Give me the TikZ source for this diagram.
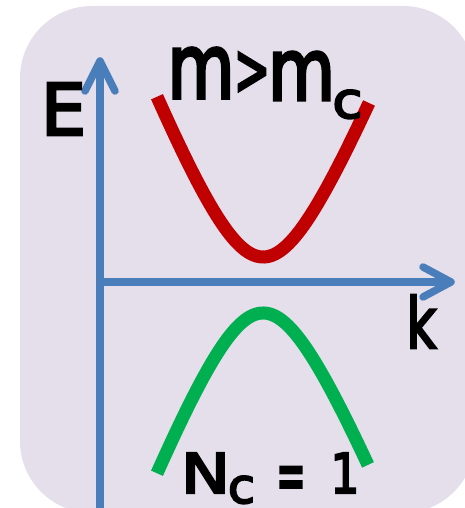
\documentclass[tikz,border=0pt]{standalone}
\usepackage{fontspec}
\setmainfont{DejaVu Sans}[FakeBold=4]
\definecolor{bgcol}{HTML}{E5DFEC}
\definecolor{axiscol}{HTML}{4A7EBB}
\definecolor{bandred}{HTML}{C00000}
\definecolor{bandgreen}{HTML}{00B050}
% #1 ink width, #2 scaled box width, #3 height, #4 glyph
\newcommand{\glyphbox}[4]{\makebox[#1]{\resizebox{#2}{#3}{#4}}}
\begin{document}
\begin{tikzpicture}[x=1pt,y=-1pt,
  axis/.style={draw=axiscol, line width=7.5pt},
  tipstyle/.style={draw=axiscol, line width=7.5pt, line cap=round, line join=round},
  band/.style={line width=13pt, line cap=butt},
  lbl/.style={inner sep=0pt, text=black, text depth=0pt, anchor=base, font=\fontsize{10}{10}\selectfont}]
\useasboundingbox (0,0) rectangle (464,508);
\fill[bgcol, rounded corners=72pt] (20,6) rectangle (475,513);
% axes
\coordinate (Ebot) at (100,508);
\coordinate (Etip) at (100,61);
\coordinate (Kstart) at (96,282);
\coordinate (Ktip) at (451,282);
\draw[axis] (Ebot) -- (Etip);
\draw[tipstyle] (85,91) -- (Etip) -- (115,91);
\draw[axis] (Kstart) -- (Ktip);
\draw[tipstyle] (423,267) -- (Ktip) -- (423,297);
% bands
\draw[band, draw=bandred] plot[domain=-105:107, samples=80, smooth]
  ({262+\x},{257-veclen(143,2.49*\x)+143+0.05*\x});
\draw[band, draw=bandgreen] plot[domain=-105:106, samples=80, smooth]
  ({262+\x},{313+veclen(143,2.49*\x)-143-0.05*\x});
% labels
\node[lbl] (E) at (63.5,135) {\glyphbox{33pt}{45pt}{52pt}{E}};
\node[lbl] (m1) at (201,98) {\glyphbox{54pt}{67pt}{50pt}{m}};
\node[lbl] (gt) at (252,94.5) {\glyphbox{25pt}{36pt}{42pt}{>}};
\node[lbl] (m2) at (301.5,100) {\glyphbox{54pt}{67pt}{48pt}{m}};
\node[lbl] (mc) at (347.5,118) {\glyphbox{23pt}{30pt}{28pt}{c}};
\node[lbl] (k) at (417.5,348) {\glyphbox{31pt}{37pt}{53pt}{\kern1.5pt k}};
\node[lbl] (N) at (205.5,493) {\glyphbox{36pt}{49pt}{40pt}{N}};
\node[lbl] (Nc) at (241.5,503) {\glyphbox{20pt}{27pt}{27pt}{c}};
\node[lbl] (eq) at (291,500) {\glyphbox{22pt}{29pt}{33pt}{=}};
\node[lbl] (one) at (345,493) {\glyphbox{20pt}{29pt}{40pt}{1}};
\end{tikzpicture}
\end{document}
